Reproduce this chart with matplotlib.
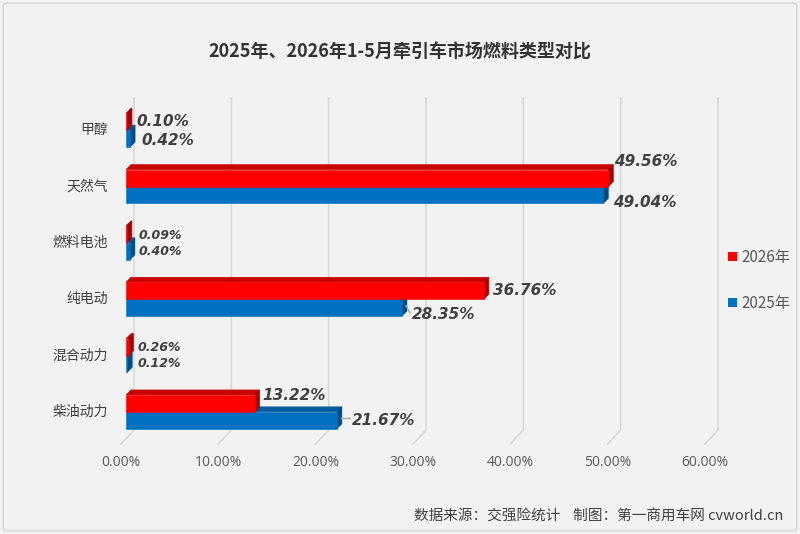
import matplotlib
matplotlib.use("Agg")

import matplotlib.pyplot as plt
from matplotlib.patches import Polygon, Patch, FancyBboxPatch
from matplotlib.lines import Line2D

plt.rcParams["font.family"] = ["Noto Sans CJK SC", "DejaVu Sans"]

# ---------------------------------------------------------------- data

categories = ["甲醇", "天然气", "燃料电池", "纯电动", "混合动力", "柴油动力"]
share_2026 = [0.10, 49.56, 0.09, 36.76, 0.26, 13.22]
share_2025 = [0.42, 49.04, 0.40, 28.35, 0.12, 21.67]
x_ticks = [0, 10, 20, 30, 40, 50, 60]
series_names = ["2026年", "2025年"]

title = "2025年、2026年1-5月牵引车市场燃料类型对比"
source = "数据来源：交强险统计    制图：第一商用车网 cvworld.cn"

# label offsets in pixels (dx, dy up) from the bar end, and font size
offsets_2026 = [(9, 0, 11), (6, 17, 11), (12, -1, 9), (9, 0, 11), (9, 0, 9), (8, 8, 11)]
offsets_2025 = [(11, -2, 11), (10, -8, 11), (9, 0, 9), (10, -7, 11), (10, 0, 9), (15, 0, 11)]
leaders_2025 = [False, False, False, True, False, True]

RED = ("#FF0000", "#C80000", "#A00000")
BLUE = ("#0070C0", "#005C9E", "#004A80")
DEPTH = 5
HALF = 0.30

fig = plt.figure(figsize=(8, 5.34), dpi=100)
fig.patch.set_facecolor("#F2F2F2")
fig.add_artist(FancyBboxPatch((0.004, 0.006), 0.992, 0.988,
                              boxstyle="round,pad=0,rounding_size=0.006",
                              transform=fig.transFigure, facecolor="none",
                              edgecolor="#D9D9D9", linewidth=1.2, zorder=0.2))

ax = fig.add_axes([126 / 800, 94 / 534, 584 / 800, 338 / 534])
ax.set_xlim(0, 60)
ax.set_ylim(len(categories) - 0.5, -0.5)
ax.axis("off")

inv = fig.transFigure.inverted()


def to_fig(x, y, dx=0, dy=0):
    X, Y = ax.transData.transform((x, y))
    return inv.transform((X + dx, Y + dy))


def to_fig_axes_y(x, ya, dx=0, dy=0):
    X, _ = ax.transData.transform((x, 0))
    _, Y = ax.transAxes.transform((0, ya))
    return inv.transform((X + dx, Y + dy))


# ---------------------------------------------------------------- grid

for v in x_ticks:
    top = to_fig_axes_y(v, 1, 8, 4)
    mid = to_fig_axes_y(v, 0, 8, 10)
    low = to_fig_axes_y(v, 0, -5, -4)
    fig.add_artist(Line2D([top[0], mid[0], low[0]], [top[1], mid[1], low[1]],
                          transform=fig.transFigure, color="#D9D9D9", lw=1.2,
                          zorder=0.5))
    lx, ly = to_fig_axes_y(v, 0, -5, -22)
    fig.text(lx, ly, f"{v:.2f}%", ha="center", va="center", fontsize=10,
             color="#595959", family=["Open Sans", "DejaVu Sans"])

# ---------------------------------------------------------------- bars


def bar3d(value, y_top, y_bot, colors):
    front, top, side = colors
    faces = [
        ([to_fig(0, y_top), to_fig(value, y_top),
          to_fig(value, y_top, DEPTH, DEPTH), to_fig(0, y_top, DEPTH, DEPTH)], top),
        ([to_fig(value, y_top), to_fig(value, y_bot),
          to_fig(value, y_bot, DEPTH, DEPTH), to_fig(value, y_top, DEPTH, DEPTH)], side),
        ([to_fig(0, y_top), to_fig(value, y_top),
          to_fig(value, y_bot), to_fig(0, y_bot)], front),
    ]
    for pts, c in faces:
        fig.add_artist(Polygon(pts, closed=True, transform=fig.transFigure,
                               facecolor=c, edgecolor=c, linewidth=0.4, zorder=1))


def value_label(value, y_mid, off, leader):
    dx, dy, size = off
    if leader:
        a = to_fig(value, y_mid, DEPTH - 1, 2)
        b = to_fig(value, y_mid, dx - 2, dy + 2)
        fig.add_artist(Line2D([a[0], b[0]], [a[1], b[1]], transform=fig.transFigure,
                              color="#A6A6A6", lw=1, zorder=2))
    tx, ty = to_fig(value, y_mid, dx, dy)
    fig.text(tx, ty, f"{value:.2f}%", ha="left", va="center", fontsize=size,
             fontweight="bold", fontstyle="italic", color="#404040",
             family="DejaVu Sans")


for i, name in enumerate(categories):
    bar3d(share_2025[i], i, i + HALF, BLUE)
    bar3d(share_2026[i], i - HALF, i, RED)
    value_label(share_2026[i], i - HALF / 2, offsets_2026[i], False)
    value_label(share_2025[i], i + HALF / 2, offsets_2025[i], leaders_2025[i])
    cx, cy = to_fig(0, i, -18, 0)
    fig.text(cx, cy, name, ha="right", va="center", fontsize=10, color="#404040")

# ---------------------------------------------------------------- legend

handles = [Patch(facecolor=RED[0], edgecolor="none"), Patch(facecolor=BLUE[0], edgecolor="none")]
fig.legend(handles, series_names, loc="center left", bbox_to_anchor=(0.893, 0.475),
           frameon=False, fontsize=11, handlelength=0.6, handleheight=0.6,
           handletextpad=0.3, labelspacing=1.9, labelcolor="#595959")

fig.text(0.5, 1 - 52 / 534, title, ha="center", va="center", fontsize=13,
         fontweight="bold", color="#333333")
fig.text(0.979, 1 - 517 / 534, source, ha="right", va="center", fontsize=10.5,
         color="#404040")

fig.savefig("out.png", dpi=100, facecolor=fig.get_facecolor())
plt.close(fig)
